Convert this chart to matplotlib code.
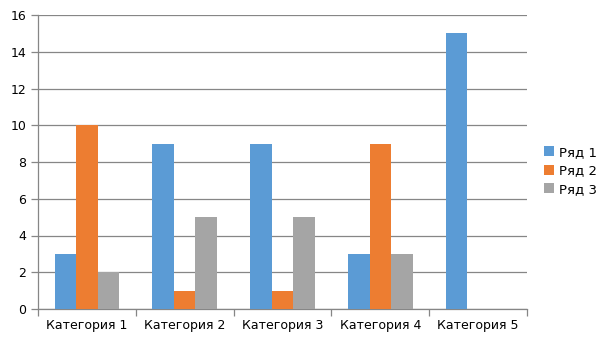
import matplotlib
matplotlib.use("Agg")
import matplotlib.pyplot as plt
import numpy as np

categories = ["Категория 1", "Категория 2", "Категория 3", "Категория 4", "Категория 5"]
series_names = ["Ряд 1", "Ряд 2", "Ряд 3"]
ryad1 = [3, 9, 9, 3, 15]
ryad2 = [10, 1, 1, 9, 0]
ryad3 = [2, 5, 5, 3, 0]
colors = ["#5B9BD5", "#ED7D31", "#A5A5A5"]
yticks = [0, 2, 4, 6, 8, 10, 12, 14, 16]

plt.rcParams['font.family'] = ['DejaVu Sans']
fig = plt.figure(figsize=(6.05, 3.4), dpi=100)
ax = fig.add_axes([38/605, 31/340, (527-38)/605, (309-15)/340])

x = np.arange(len(categories))
w = 0.22
for i, (vals, name, c) in enumerate(zip([ryad1, ryad2, ryad3], series_names, colors)):
    ax.bar(x + (i - 1) * w, vals, width=w, color=c, label=name, zorder=3)

ax.set_xlim(-0.5, len(categories) - 0.5)
ax.set_ylim(0, 16)
ax.set_yticks(yticks)
ax.yaxis.grid(True, color="#868686", linewidth=0.9, zorder=0)
for s in ["top", "right"]:
    ax.spines[s].set_visible(False)
for s in ["left", "bottom"]:
    ax.spines[s].set_color("#868686")
    ax.spines[s].set_linewidth(0.9)

ax.set_xticks(np.arange(-0.5, len(categories)), minor=False)
ax.set_xticklabels([])
ax.set_xticks(x, minor=True)
ax.set_xticklabels(categories, minor=True)
ax.tick_params(axis="x", which="major", length=5, color="#868686", width=0.9)
ax.tick_params(axis="x", which="minor", length=0, labelsize=9, pad=7)
ax.tick_params(axis="y", length=5, color="#868686", width=0.9, labelsize=9)

ax.legend(loc="center left", bbox_to_anchor=(1.0, 0.47), frameon=False, fontsize=9.5,
          handlelength=0.75, handleheight=0.75, handletextpad=0.35, labelspacing=0.42,
          borderaxespad=0.9)

fig.savefig("out.png", dpi=100)
